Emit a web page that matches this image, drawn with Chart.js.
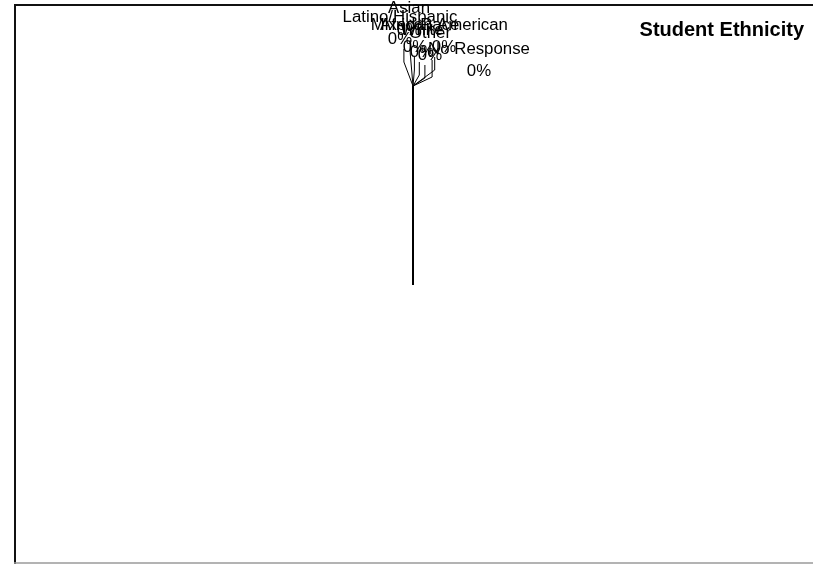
<!DOCTYPE html>
<html>
<head>
<meta charset="utf-8">
<script src="https://cdn.jsdelivr.net/npm/chart.js@4/dist/chart.umd.min.js"></script>
<style>
  html, body { margin: 0; padding: 0; background: #fff; }
  #wrap { width: 813px; height: 564px; }
</style>
</head>
<body>
<div id="wrap"><canvas id="chart"></canvas></div>
<script>
// Chart data (every group reads 0%)
const categories = ['Asian', 'Latino/Hispanic', 'African American', 'Mixed Race', 'White', 'Other', 'No Response'];
const counts = [0, 0, 0, 0, 0, 0, 0];
const percentLabels = ['0%', '0%', '0%', '0%', '0%', '0%', '0%'];

// Where each data label sits, relative to the top of the pie (pixels)
const labelOffsets = [[-4, -77], [-13, -68], [31, -60], [2, -60], [9, -55], [17, -52], [66, -36]];

const LABEL_FONT = '16px "Liberation Sans", Arial, sans-serif';
const LINE_GAP = 22;
const TEXT_STRETCH = 1.05;

// White page with the frame lines
const framePlugin = {
    id: 'frame',
    beforeDraw(chart) {
        const ctx = chart.ctx;
        ctx.save();
        ctx.fillStyle = '#fff';
        ctx.fillRect(0, 0, chart.width, chart.height);
        ctx.strokeStyle = '#111';
        ctx.lineWidth = 2;
        ctx.beginPath();
        ctx.moveTo(14, 5);
        ctx.lineTo(chart.width, 5);
        ctx.moveTo(15, 4);
        ctx.lineTo(15, chart.height);
        ctx.stroke();
        ctx.strokeStyle = '#9a9a9a';
        ctx.lineWidth = 1.5;
        ctx.beginPath();
        ctx.moveTo(14, chart.height - 1);
        ctx.lineTo(chart.width, chart.height - 1);
        ctx.stroke();
        ctx.restore();
    }
};

function stretchedText(ctx, text, x, y) {
    ctx.save();
    ctx.translate(x, y);
    ctx.scale(TEXT_STRETCH, 1);
    ctx.fillText(text, 0, 0);
    ctx.restore();
}

// Zero slices: draw the shared slice edge plus the labels with leader lines
const zeroSlicePlugin = {
    id: 'zeroSlices',
    afterDatasetsDraw(chart) {
        const meta = chart.getDatasetMeta(0);
        const arc = meta.data[0];
        if (!arc) return;
        const cx = arc.x, cy = arc.y, r = arc.outerRadius;
        const a = arc.startAngle;
        const px = cx + Math.cos(a) * r;
        const py = cy + Math.sin(a) * r;
        const ctx = chart.ctx;
        ctx.save();

        // slice edge
        ctx.strokeStyle = '#000';
        ctx.lineWidth = 2;
        ctx.beginPath();
        ctx.moveTo(cx, cy);
        ctx.lineTo(px, py);
        ctx.stroke();

        ctx.font = LABEL_FONT;
        ctx.textAlign = 'center';
        ctx.textBaseline = 'middle';
        ctx.lineWidth = 1;

        categories.forEach((name, i) => {
            const lx = px + labelOffsets[i][0];
            const ly = py + labelOffsets[i][1];
            const w = TEXT_STRETCH * Math.max(ctx.measureText(name).width, ctx.measureText(percentLabels[i]).width);
            const left = lx - w / 2;

            // leader line
            ctx.beginPath();
            if (left > px + 10) {
                ctx.moveTo(left + 4, ly + 10);
                ctx.lineTo(left + 4, ly + LINE_GAP + 5);
            } else {
                const sx = lx + (px - lx) * 0.3;
                const top = ly + LINE_GAP + 9;
                const bottom = Math.min(top + 13, py - 5);
                ctx.moveTo(sx, top);
                ctx.lineTo(sx, bottom);
            }
            ctx.lineTo(px, py);
            ctx.stroke();

            ctx.fillStyle = '#000';
            stretchedText(ctx, name, lx, ly);
            stretchedText(ctx, percentLabels[i], lx, ly + LINE_GAP);
        });
        ctx.restore();
    }
};

const ctx = document.getElementById('chart').getContext('2d');
new Chart(ctx, {
    type: 'pie',
    data: {
        labels: categories,
        datasets: [{
            data: counts,
            backgroundColor: '#ffffff',
            borderColor: '#000000',
            borderWidth: 0
        }]
    },
    options: {
        responsive: true,
        maintainAspectRatio: false,
        animation: false,
        layout: {
            padding: { left: 22, right: 9, top: 6, bottom: 80 }
        },
        plugins: {
            legend: { display: false },
            tooltip: { enabled: false },
            title: {
                display: true,
                text: 'Student Ethnicity',
                align: 'end',
                color: '#000',
                font: { family: '"Liberation Sans", Arial, sans-serif', size: 20, weight: 'bold' },
                padding: { top: 12, bottom: 44 }
            }
        }
    },
    plugins: [framePlugin, zeroSlicePlugin]
});
</script>
</body>
</html>
